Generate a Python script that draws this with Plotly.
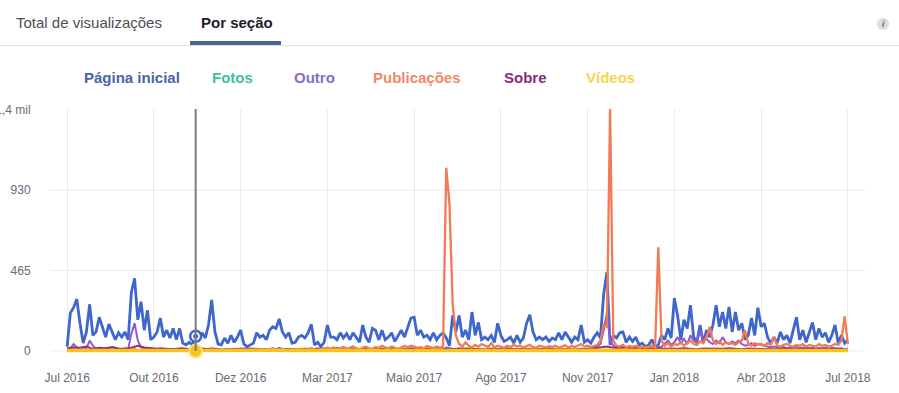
import pandas as pd
import plotly.graph_objects as go

# ---------------- data ----------------
start_date = "2016-07-01"
end_date = "2018-06-30"

pagina_inicial = [
    25, 220, 250, 300, 160, 45, 110, 270, 90, 110,
    195, 130, 80, 155, 110, 65, 105, 80, 110, 65,
    340, 420, 180, 285, 120, 235, 65, 80, 110, 190,
    80, 120, 75, 130, 65, 130, 45, 35, 50, 35,
    85, 65, 105, 75, 150, 295, 110, 40, 35, 75,
    45, 90, 50, 80, 120, 40, 25, 35, 45, 105,
    80, 90, 65, 120, 140, 130, 185, 110, 80, 105,
    45, 50, 80, 90, 75, 105, 155, 35, 50, 25,
    50, 150, 80, 80, 65, 105, 75, 100, 65, 105,
    80, 50, 150, 80, 50, 130, 120, 65, 120, 65,
    80, 105, 55, 90, 120, 80, 130, 190, 195, 90,
    120, 80, 90, 65, 105, 65, 90, 105, 75, 30,
    205, 110, 205, 80, 120, 65, 225, 90, 165, 65,
    80, 65, 90, 50, 160, 90, 55, 65, 80, 45,
    90, 50, 75, 160, 210, 110, 65, 80, 65, 80,
    55, 75, 65, 105, 65, 110, 80, 50, 80, 65,
    150, 50, 65, 45, 80, 105, 75, 330, 455, 35,
    90, 75, 105, 110, 50, 80, 55, 80, 35, 45,
    25, 35, 65, 25, 35, 90, 65, 130, 75, 305,
    205, 65, 180, 130, 265, 80, 50, 150, 45, 120,
    80, 150, 265, 140, 225, 130, 255, 110, 225, 120,
    160, 65, 90, 190, 90, 250, 140, 160, 80, 45,
    80, 45, 110, 65, 90, 45, 120, 195, 65, 120,
    50, 105, 165, 65, 130, 80, 105, 50, 90, 150,
    45, 90, 45, 65,
]

publicacoes = [
    0, 2, 5, 3, 0, 2, 4, 0, 3, 2,
    0, 3, 2, 0, 4, 2, 0, 3, 5, 2,
    8, 10, 4, 2, 3, 0, 2, 4, 2, 0,
    3, 2, 0, 4, 2, 3, 0, 2, 3, 0,
    2, 4, 3, 0, 5, 8, 3, 2, 0, 4,
    3, 0, 2, 5, 3, 0, 2, 4, 3, 6,
    8, 5, 4, 10, 12, 6, 8, 10, 5, 4,
    6, 8, 12, 10, 6, 9, 14, 8, 5, 10,
    12, 18, 14, 20, 10, 15, 22, 12, 18, 25,
    15, 10, 20, 25, 15, 12, 22, 18, 30, 20,
    15, 25, 18, 12, 20, 28, 22, 30, 25, 18,
    22, 15, 28, 20, 16, 25, 18, 25, 1060, 850,
    270, 90, 40, 25, 50, 30, 20, 35, 25, 40,
    30, 22, 45, 20, 30, 25, 18, 30, 22, 35,
    25, 30, 20, 28, 35, 22, 18, 30, 25, 20,
    28, 22, 30, 18, 25, 32, 20, 28, 22, 30,
    40, 25, 30, 22, 28, 35, 60, 150, 140, 1400,
    60, 30, 25, 35, 20, 28, 22, 30, 18, 25,
    20, 25, 30, 20, 600, 60, 30, 45, 25, 40,
    35, 50, 30, 45, 60, 40, 35, 55, 45, 80,
    140, 60, 40, 55, 35, 50, 40, 45, 35, 50,
    60, 120, 40, 30, 45, 35, 40, 30, 45, 35,
    80, 30, 25, 35, 40, 30, 25, 35, 30, 40,
    25, 35, 30, 25, 40, 30, 35, 25, 30, 40,
    35, 60, 200, 40,
]

outro = [
    10, 15, 40, 20, 10, 8, 15, 60, 30, 12,
    10, 8, 15, 10, 8, 12, 10, 8, 15, 10,
    100, 160, 60, 20, 15, 10, 12, 8, 10, 15,
    10, 8, 12, 10, 8, 10, 6, 5, 8, 6,
    10, 8, 6, 10, 12, 15, 8, 6, 5, 8,
    6, 8, 5, 6, 10, 5, 4, 6, 8, 10,
    8, 10, 6, 12, 15, 10, 18, 12, 8, 10,
    6, 8, 10, 12, 8, 10, 15, 6, 8, 5,
    8, 10, 6, 8, 5, 10, 8, 6, 10, 8,
    6, 5, 10, 8, 6, 10, 8, 5, 8, 6,
    8, 10, 6, 5, 8, 10, 12, 15, 10, 8,
    6, 8, 10, 6, 8, 5, 10, 8, 20, 15,
    12, 10, 15, 8, 10, 6, 12, 8, 10, 6,
    8, 6, 10, 5, 12, 8, 6, 8, 10, 6,
    8, 5, 6, 10, 12, 8, 6, 8, 5, 6,
    8, 6, 5, 8, 6, 10, 8, 6, 5, 8,
    10, 8, 12, 15, 20, 25, 40, 120, 220, 60,
    30, 25, 20, 30, 15, 20, 25, 18, 12, 15,
    10, 12, 15, 10, 20, 25, 40, 60, 35, 50,
    80, 45, 70, 40, 90, 60, 45, 120, 55, 70,
    50, 40, 60, 45, 80, 50, 40, 55, 45, 60,
    40, 30, 35, 45, 30, 40, 35, 30, 25, 20,
    25, 20, 18, 22, 15, 20, 18, 25, 15, 20,
    18, 15, 20, 12, 18, 15, 20, 12, 18, 15,
    12, 15, 10, 12,
]

sobre = [
    15, 20, 18, 25, 12, 18, 15, 22, 14, 12,
    18, 30, 20, 15, 12, 14, 10, 12, 15, 10,
    12, 14, 10, 12, 8, 10, 12, 10, 14, 12,
    10, 12, 8, 10, 12, 10, 8, 12, 10, 14,
    12, 10, 15, 12, 10, 8, 12, 10, 14, 12,
    10, 12, 8, 10, 14, 12, 10, 12, 8, 10,
    12, 10, 14, 12, 10, 8, 12, 10, 15, 12,
    10, 12, 8, 10, 12, 14, 10, 12, 10, 8,
    12, 10, 14, 20, 25, 18, 15, 20, 16, 18,
    15, 12, 14, 12, 10, 12, 15, 12, 10, 14,
    12, 10, 12, 15, 12, 10, 14, 12, 10, 12,
    10, 12, 14, 10, 12, 10, 12, 10, 12, 14,
    12, 10,
]

fotos = [
    1, 2, 1, 0, 1, 2, 1, 1, 0, 1,
    1, 2, 1, 0, 1, 1, 2, 1, 0, 1,
    1, 1, 2, 1, 0, 1, 1, 2, 1, 1,
    0, 1, 2, 1, 1, 0, 1, 2, 1, 1,
    0, 1, 1, 2, 1, 0, 1, 1, 2, 1,
]

videos = [
    3, 4, 2, 3, 3, 2, 4, 3, 2, 3,
    3, 2, 3, 4, 2, 3, 3, 2, 3, 4,
    3, 2, 3, 3, 4, 2, 3, 3, 2, 3,
    4, 3, 2, 3, 3, 4, 2, 3, 3, 2,
    3, 4, 3, 2, 3, 3, 2, 4, 3, 3,
]

x_tick_labels = ["Jul 2016", "Out 2016", "Dez 2016", "Mar 2017", "Maio 2017",
                 "Ago 2017", "Nov 2017", "Jan 2018", "Abr 2018", "Jul 2018"]
y_tick_values = [0, 465, 930, 1395]
y_tick_labels = ["0", "465", "930", "1,4 mil"]

series_names = ["Página inicial", "Fotos", "Outro", "Publicações", "Sobre", "Vídeos"]
legend_colors = ["#4a64a8", "#3fbf9f", "#8a6cc8", "#f0896a", "#8b2a78", "#f6d54e"]
line_colors = ["#3f66cc", "#3ec4a0", "#8c5ad2", "#f27a55", "#9c2a7d", "#f5c518"]

hover_index = 40          # index into the 3-day series where the hover line sits
hover_videos_value = 0    # Vídeos value at the hovered date

# ---------------- build ----------------
t0 = pd.Timestamp(start_date)
t1 = pd.Timestamp(end_date)
dates3 = pd.date_range(t0, periods=len(pagina_inicial), freq="3D")
dates6 = pd.date_range(t0, periods=len(sobre), freq="6D")
dates_f = pd.date_range(t0, t1, periods=len(fotos))
dates_v = pd.date_range(t0, t1, periods=len(videos))
tick_dates = pd.date_range(t0, t1, periods=len(x_tick_labels))

FONT = "Liberation Sans, Arial, Helvetica, sans-serif"
W, H = 899, 393
ML, MR, MT, MB = 50, 34, 109, 40
PW = W - ML - MR
PH = H - MT - MB


def px(x):
    return (x - ML) / PW


def py(y):
    return (H - MB - y) / PH


fig = go.Figure()

traces = [
    (dates3, pagina_inicial, 0, 2.8),
    (dates_f, fotos, 1, 2),
    (dates3, outro, 2, 2),
    (dates6, sobre, 4, 2),
    (dates3, publicacoes, 3, 2.3),
    (dates_v, videos, 5, 3.5),
]
for xs, ys, k, w in traces:
    fig.add_trace(go.Scatter(
        x=xs, y=ys, mode="lines", name=series_names[k],
        line=dict(color=line_colors[k], width=w), hoverinfo="skip",
    ))

hx = dates3[hover_index]
fig.add_trace(go.Scatter(
    x=[hx], y=[pagina_inicial[hover_index]], mode="markers",
    marker=dict(size=11, color="white", line=dict(color=line_colors[0], width=2.5)),
    hoverinfo="skip"))
fig.add_trace(go.Scatter(
    x=[hx], y=[pagina_inicial[hover_index]], mode="markers",
    marker=dict(size=5, color=line_colors[0]), hoverinfo="skip"))
fig.add_trace(go.Scatter(
    x=[hx], y=[hover_videos_value], mode="markers",
    marker=dict(size=13, color="#f5c518", line=dict(color="#fbe07a", width=2)),
    hoverinfo="skip", cliponaxis=False))

shapes = []
for v in y_tick_values[:-1]:
    shapes.append(dict(type="line", xref="paper", yref="y", x0=0, x1=1, y0=v, y1=v,
                       line=dict(color="#ebebeb", width=1), layer="below"))
shapes.append(dict(type="line", xref="x", yref="y", x0=hx, x1=hx, y0=0, y1=1400,
                   line=dict(color="#7a7a7a", width=2)))
shapes.append(dict(type="line", xref="paper", yref="paper", x0=px(0), x1=px(W),
                   y0=py(45.5), y1=py(45.5), line=dict(color="#dddfe2", width=1)))
shapes.append(dict(type="rect", xref="paper", yref="paper", x0=px(190), x1=px(281),
                   y0=py(45), y1=py(41), fillcolor="#4b6394", line=dict(width=0)))
shapes.append(dict(type="circle", xref="paper", yref="paper", x0=px(877), x1=px(889),
                   y0=py(30), y1=py(18), fillcolor="#dcdee2", line=dict(width=0)))

annotations = [
    dict(text="Total de visualizações", x=px(14), y=py(22), xref="paper", yref="paper",
         xanchor="left", yanchor="middle", showarrow=False,
         font=dict(family=FONT, size=15, color="#4b4f56")),
    dict(text="<b>Por seção</b>", x=px(199), y=py(22), xref="paper", yref="paper",
         xanchor="left", yanchor="middle", showarrow=False,
         font=dict(family=FONT, size=15, color="#1d2129")),
    dict(text="<i><b>i</b></i>", x=px(883), y=py(24), xref="paper", yref="paper",
         xanchor="center", yanchor="middle", showarrow=False,
         font=dict(family=FONT, size=9, color="#6b6f75")),
]
legend_x = [82, 210, 292, 371, 502, 584]
for name, c, lx in zip(series_names, legend_colors, legend_x):
    annotations.append(dict(text=f"<b>{name}</b>", x=px(lx), y=py(77), xref="paper",
                            yref="paper", xanchor="left", yanchor="middle", showarrow=False,
                            font=dict(family=FONT, size=15, color=c)))

pad = pd.Timedelta(days=16)
fig.update_layout(
    width=W, height=H,
    margin=dict(l=ML, r=MR, t=MT, b=MB, autoexpand=False),
    paper_bgcolor="white", plot_bgcolor="white",
    showlegend=False,
    font=dict(family=FONT),
    shapes=shapes, annotations=annotations,
    xaxis=dict(
        type="date", range=[t0 - pad, t1 + pad], automargin=False,
        tickvals=list(tick_dates), ticktext=x_tick_labels,
        showgrid=True, gridcolor="#ebebeb", gridwidth=1,
        zeroline=False, showline=False,
        ticks="outside", ticklen=14, tickcolor="rgba(0,0,0,0)",
        tickfont=dict(family=FONT, size=12, color="#666b73"),
    ),
    yaxis=dict(
        range=[-12, 1400], automargin=False,
        tickvals=y_tick_values, ticktext=y_tick_labels,
        showgrid=False, zeroline=False, showline=False,
        ticks="outside", ticklen=16, tickcolor="rgba(0,0,0,0)",
        tickfont=dict(family=FONT, size=12, color="#666b73"),
    ),
)

fig.write_html("out.html", config={"displayModeBar": False},
               post_script="document.body.style.margin='0';document.body.style.padding='0';")
